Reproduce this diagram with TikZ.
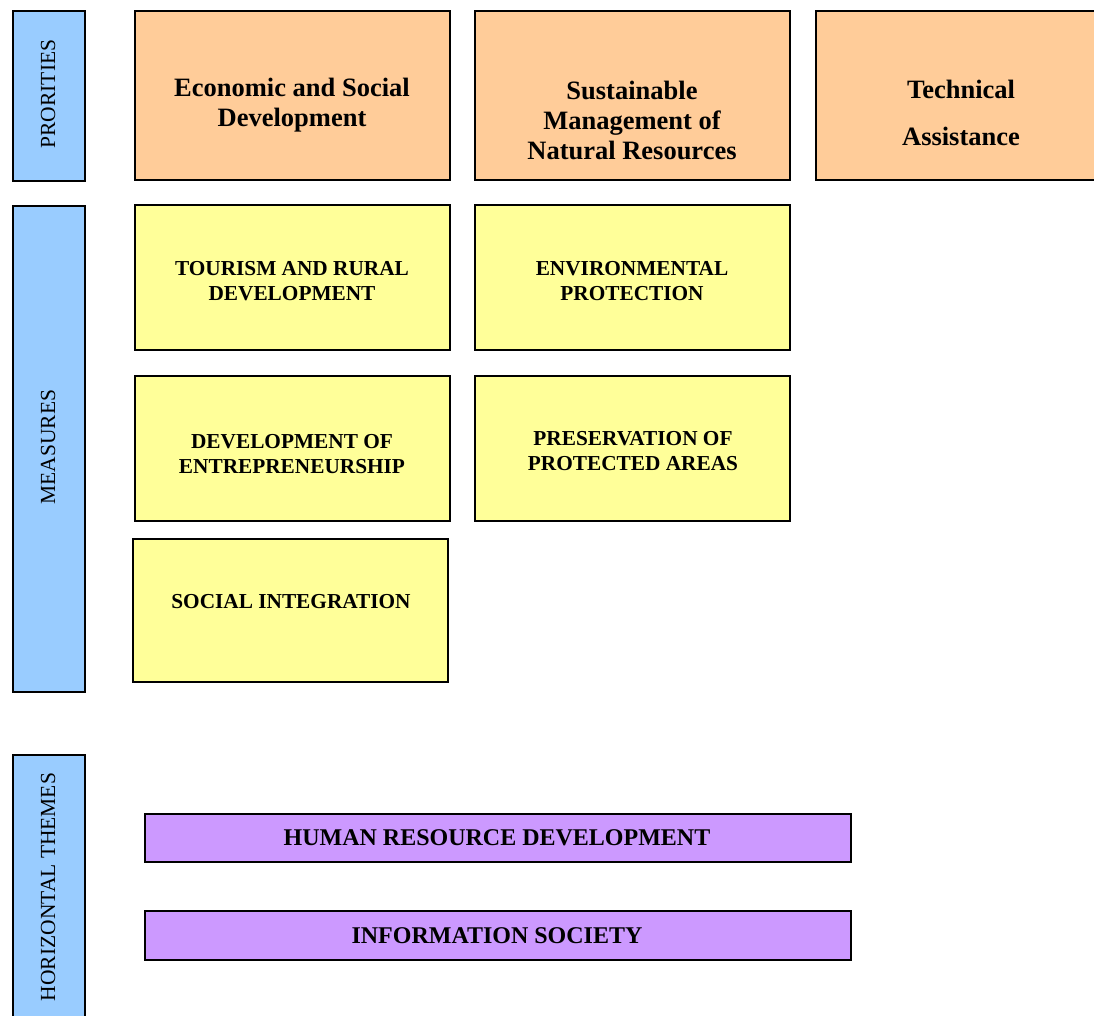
\documentclass[tikz,border=0pt]{standalone}
\usepackage{fontspec}
\setmainfont{Liberation Serif}
\definecolor{sideblue}{HTML}{99CCFF}
\definecolor{prioorange}{HTML}{FFCC99}
\definecolor{measyellow}{HTML}{FFFF99}
\definecolor{themepurple}{HTML}{CC99FF}
\tikzset{
  frame/.style={draw, line width=1.6pt, anchor=north west, inner sep=0pt},
  sidebar/.style={frame, fill=sideblue, minimum width=72},
  prio/.style={frame, fill=prioorange, minimum width=315, minimum height=169},
  meas/.style={frame, fill=measyellow, minimum width=315, minimum height=145},
  theme/.style={frame, fill=themepurple, minimum width=706, minimum height=48},
  sidetext/.style={rotate=90, font=\fontsize{21.5}{25}\selectfont},
  priotext/.style={align=center, font=\fontsize{26.5}{30}\selectfont\bfseries},
  meastext/.style={align=center, font=\fontsize{21.3}{25}\selectfont\bfseries},
  themetext/.style={font=\fontsize{24}{28}\selectfont\bfseries}
}
\begin{document}
\begin{tikzpicture}[x=1pt,y=-1pt]
\useasboundingbox (0,0) rectangle (1094,1015);
\clip (0,0) rectangle (1094,1015);
% side bars
\node[sidebar, minimum height=170] (barprio) at (12,10) {};
\node[sidebar, minimum height=486] (barmeas) at (12,205) {};
\node[sidebar, minimum height=290] (bartheme) at (12,754) {};
\node[sidetext] (prioname) at (48,94) {PRORITIES};
\node[sidetext] (measname) at (48,447) {MEASURES};
\node[sidetext] (themename) at (48,887) {HORIZONTAL THEMES};
% priorities
\node[prio] (econ) at (134,10) {};
\node[prio] (natres) at (474,10) {};
\node[prio, minimum width=300] (techass) at (815,10) {};
\node[priotext] (econtext) at (292,105) {Economic and Social\\Development};
\node[priotext] (natrestext) at (632,120) {Sustainable\\Management of\\Natural Resources};
\node[priotext] (techasstext) at (961,113) {Technical\\[17pt]Assistance};
% measures
\node[meas] (tourism) at (134,204) {};
\node[meas] (envprot) at (474,204) {};
\node[meas] (entrep) at (134,375) {};
\node[meas] (protarea) at (474,375) {};
\node[meas, minimum height=143] (socint) at (132,538) {};
\node[meastext] (tourismtext) at (292,281) {TOURISM AND RURAL\\DEVELOPMENT};
\node[meastext] (envprottext) at (632,281) {ENVIRONMENTAL\\PROTECTION};
\node[meastext] (entreptext) at (292,454) {DEVELOPMENT OF\\ENTREPRENEURSHIP};
\node[meastext] (protareatext) at (633,451) {PRESERVATION OF\\PROTECTED AREAS};
\node[meastext] (socinttext) at (291,602) {SOCIAL INTEGRATION};
% horizontal themes
\node[theme] (humres) at (144,813) {};
\node[theme, minimum height=49] (infosoc) at (144,910) {};
\node[themetext] (humrestext) at (497,838) {HUMAN RESOURCE DEVELOPMENT};
\node[themetext] (infosoctext) at (497,936) {INFORMATION SOCIETY};
\end{tikzpicture}
\end{document}
